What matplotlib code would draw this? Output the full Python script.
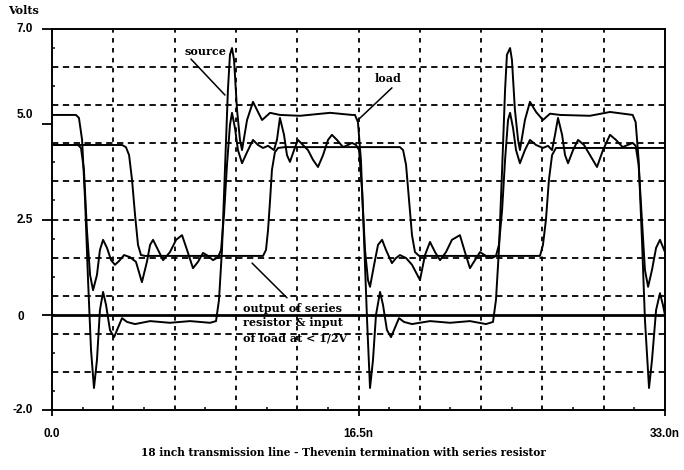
import matplotlib
matplotlib.use("Agg")
import matplotlib.pyplot as plt
import matplotlib.transforms as mtransforms
import numpy as np

# ---------------- data (time in ns, volts) ----------------
source_ns = [0.00, 1.29, 1.45, 1.62, 1.78, 1.94, 2.10, 2.26, 2.42, 2.58, 2.75, 2.91, 3.12, 3.34,
             3.55, 3.77, 4.04, 4.47, 5.28, 6.35, 7.43, 8.51, 8.83, 8.99, 9.15, 9.31, 9.47, 9.58,
             9.69, 9.80, 9.96, 10.12, 10.23, 10.50, 10.82, 11.09, 11.31, 11.74, 12.27, 13.35,
             14.97, 16.15, 16.31, 16.47, 16.63, 16.80, 16.96, 17.12, 17.28, 17.44, 17.66, 17.82,
             18.03, 18.25, 18.46, 18.68, 18.95, 19.38, 20.35, 21.43, 22.50, 23.36, 23.74, 23.90,
             24.06, 24.23, 24.39, 24.49, 24.66, 24.76, 24.92, 25.09, 25.19, 25.46, 25.73, 26.06,
             26.43, 26.81, 27.35, 28.96, 30.04, 31.26, 31.42, 31.58, 31.76, 31.92, 32.14, 32.30,
             32.52, 32.73, 32.89, 33.00]
source_volts = [4.97, 4.97, 4.90, 4.38, 2.96, 1.07, -0.58, -1.48, -0.82, 0.36, 0.79, 0.48, -0.11, -0.28,
                -0.06, 0.17, 0.08, 0.03, 0.10, 0.06, 0.10, 0.06, 0.10, 0.60, 1.78, 3.67, 5.56, 6.39,
                6.55, 6.27, 5.09, 4.38, 4.14, 4.85, 5.28, 5.04, 4.85, 5.02, 4.97, 4.95,
                5.02, 4.97, 4.97, 4.80, 3.91, 2.02, 0.13, -1.48, -0.82, 0.24, 0.79, 0.48,
                -0.11, -0.28, -0.06, 0.17, 0.08, 0.03, 0.10, 0.06, 0.10, 0.03, 0.08, 0.60,
                1.78, 3.67, 5.56, 6.39, 6.55, 6.27, 5.09, 4.38, 4.14, 4.85, 5.28, 5.04,
                4.85, 5.00, 4.97, 4.95, 5.04, 4.97, 4.80, 3.91, 2.02, 0.13, -1.48, -0.82,
                0.36, 0.76, 0.48, 0.24]

resistor_ns = [0.00, 1.40, 1.56, 1.72, 1.88, 2.05, 2.21, 2.42, 2.58, 2.75, 2.96, 3.18, 3.39, 3.61,
               3.88, 4.20, 4.52, 4.84, 5.11, 5.28, 5.44, 5.71, 5.98, 6.35, 6.68, 7.00, 7.27, 7.59,
               7.86, 8.13, 8.40, 8.67, 8.94, 9.10, 9.26, 9.42, 9.58, 9.69, 9.85, 10.01, 10.23,
               10.50, 10.82, 11.09, 11.36, 11.63, 11.95, 12.11, 12.27, 12.49, 12.65, 12.81, 13.03,
               13.24, 13.51, 13.78, 14.05, 14.32, 14.59, 14.86, 15.07, 15.34, 15.67, 15.93, 16.15,
               16.37, 16.53, 16.69, 16.85, 17.01, 17.12, 17.34, 17.55, 17.77, 17.98, 18.30, 18.52,
               18.73, 19.06, 19.38, 19.81, 20.08, 20.35, 20.62, 20.89, 21.21, 21.53, 21.96, 22.23,
               22.50, 22.77, 23.04, 23.36, 23.69, 23.90, 24.06, 24.23, 24.39, 24.55, 24.66, 24.82,
               24.98, 25.19, 25.46, 25.73, 26.06, 26.43, 26.70, 26.92, 27.08, 27.24, 27.46, 27.62,
               27.78, 28.05, 28.32, 28.64, 28.96, 29.34, 29.66, 30.04, 30.36, 30.72, 30.99, 31.26,
               31.42, 31.58, 31.76, 31.92, 32.09, 32.30, 32.52, 32.73, 32.95, 33.00]
resistor_volts = [4.26, 4.26, 4.19, 3.67, 2.25, 1.19, 0.83, 1.19, 1.78, 2.02, 1.83, 1.54, 1.43, 1.52,
                  1.66, 1.61, 1.50, 1.02, 1.50, 1.90, 2.02, 1.78, 1.54, 1.73, 2.02, 2.13, 1.78, 1.35,
                  1.50, 1.71, 1.64, 1.54, 1.61, 1.78, 2.61, 3.79, 4.73, 5.02, 4.66, 4.14, 3.83,
                  4.09, 4.38, 4.26, 4.19, 4.24, 4.14, 4.38, 4.90, 4.50, 4.02, 3.86, 4.14,
                  4.38, 4.26, 4.14, 3.91, 3.74, 4.02, 4.38, 4.50, 4.38, 4.21, 4.26, 4.31,
                  4.26, 4.14, 3.20, 1.78, 1.07, 0.91, 1.43, 1.90, 2.02, 1.78, 1.47, 1.59,
                  1.66, 1.59, 1.43, 1.07, 1.66, 1.97, 1.73, 1.54, 1.73, 2.02, 2.13, 1.73,
                  1.35, 1.54, 1.73, 1.64, 1.59, 1.64, 1.90, 2.72, 3.91, 4.85, 5.02, 4.66,
                  4.14, 3.83, 4.14, 4.38, 4.26, 4.19, 4.24, 4.14, 4.50, 4.90, 4.50, 4.02,
                  3.83, 4.14, 4.38, 4.26, 4.02, 3.74, 4.14, 4.50, 4.38, 4.21, 4.26, 4.31,
                  4.24, 3.79, 2.49, 1.31, 0.91, 1.31, 1.83, 2.02, 1.78, 1.73]

load_ns = [0.00, 3.77, 3.98, 4.15, 4.31, 4.47, 4.63, 4.79, 5.01, 11.36, 11.52, 11.63, 11.74, 11.84,
           12.00, 12.17, 12.54, 18.73, 18.90, 19.06, 19.22, 19.38, 19.54, 19.76, 26.27, 26.43,
           26.59, 26.75, 26.92, 27.13, 33.00]
load_volts = [4.26, 4.26, 4.21, 4.02, 3.43, 2.61, 1.90, 1.66, 1.64, 1.64, 1.78, 2.25, 2.96, 3.67,
              4.09, 4.19, 4.21, 4.21, 4.14, 3.79, 2.96, 2.13, 1.73, 1.64, 1.64, 1.90,
              2.49, 3.43, 4.02, 4.19, 4.19]

zero_level = 0.24
ytick_values = [7.0, 4.75, 2.5, 0.24, -2.0]
ytick_label_values = [7.0, 4.97, 2.49, 0.20, -2.0]
ytick_labels = ["7.0", "5.0", "2.5", "0", "-2.0"]
xtick_values = [0.0, 16.5, 33.0]
xtick_labels = ["0.0", "16.5n", "33.0n"]

title = "18 inch transmission line - Thevenin termination with series resistor"

# ---------------- figure ----------------
fig = plt.figure(figsize=(6.84, 4.70), dpi=100)
ax = fig.add_axes([52 / 684, 60 / 470, 613 / 684, 381 / 470])
ax.set_xlim(0, 33)
ax.set_ylim(-2, 7)

serif = "DejaVu Serif"
sans = "Liberation Sans"

# grid
for gx in np.arange(1, 10) * 3.3:
    ax.axvline(gx, color="black", lw=1.3, ls=(0, (2.5, 3.0)), zorder=1)
for gy in -2 + np.arange(1, 10) * 0.9:
    ax.axhline(gy, color="black", lw=1.3, ls=(0, (3.5, 2.5)), zorder=1)

# zero reference line
ax.axhline(zero_level, color="black", lw=2.0, zorder=2)

# traces
ax.plot(load_ns, load_volts, color="black", lw=1.4, zorder=3)
ax.plot(resistor_ns, resistor_volts, color="black", lw=1.4, zorder=3)
ax.plot(source_ns, source_volts, color="black", lw=1.4, zorder=3)

# spines
for s in ax.spines.values():
    s.set_linewidth(1.4)
    s.set_color("black")

# ticks
ax.set_yticks(ytick_values)
ax.set_yticklabels([])
ax.set_yticks(6.55 - 0.9 * np.arange(10), minor=True)
ax.tick_params(axis="y", which="major", direction="out", length=7, width=1.3)
ax.tick_params(axis="y", which="minor", direction="in", length=2.5, width=1.1)
ax.set_xticks(xtick_values)
ax.set_xticklabels(xtick_labels, fontfamily=sans, fontweight="bold", fontsize=8.5)
ax.set_xticks(1.65 + 3.3 * np.arange(10), minor=True)
ax.tick_params(axis="x", which="major", direction="out", length=4, width=1.3, pad=9)
ax.tick_params(axis="x", which="minor", direction="in", length=2.5, width=1.1)

ytr = mtransforms.blended_transform_factory(fig.transFigure, ax.transData)
for val, lab in zip(ytick_label_values, ytick_labels):
    if lab == "0":
        ax.text(17 / 684, val, lab, transform=ytr, ha="left", va="center",
                fontfamily=sans, fontweight="bold", fontsize=8.5)
    else:
        ax.text(33 / 684, val, lab, transform=ytr, ha="right", va="center",
                fontfamily=sans, fontweight="bold", fontsize=8.5)

fig.text(8 / 684, 1 - 10 / 470, "Volts", ha="left", va="center",
         fontfamily=serif, fontweight="bold", fontsize=8)
fig.text(343 / 684, 1 - 453 / 470, title, ha="center", va="center",
         fontfamily=serif, fontweight="bold", fontsize=7.6)

# annotations
ann_kw = dict(fontfamily=serif, fontweight="bold", fontsize=8)
ax.text(8.24, 6.46, "source", ha="center", va="center", **ann_kw)
ax.annotate("", xy=(9.31, 5.44), xytext=(7.48, 6.29),
            arrowprops=dict(arrowstyle="-", lw=1.1, shrinkA=0, shrinkB=0, color="black"))
ax.text(18.09, 5.84, "load", ha="center", va="center", **ann_kw)
ax.annotate("", xy=(16.47, 4.85), xytext=(18.30, 5.61),
            arrowprops=dict(arrowstyle="-", lw=1.1, shrinkA=0, shrinkB=0, color="black"))
ax.text(10.28, 0.53, "output of series\nresistor & input\nof load at < 1/2V",
        ha="left", va="top", linespacing=1.4, **ann_kw)
ax.annotate("", xy=(10.77, 1.47), xytext=(12.65, 0.65),
            arrowprops=dict(arrowstyle="-", lw=1.1, shrinkA=0, shrinkB=0, color="black"))

fig.savefig("out.png", dpi=100, facecolor="white")
